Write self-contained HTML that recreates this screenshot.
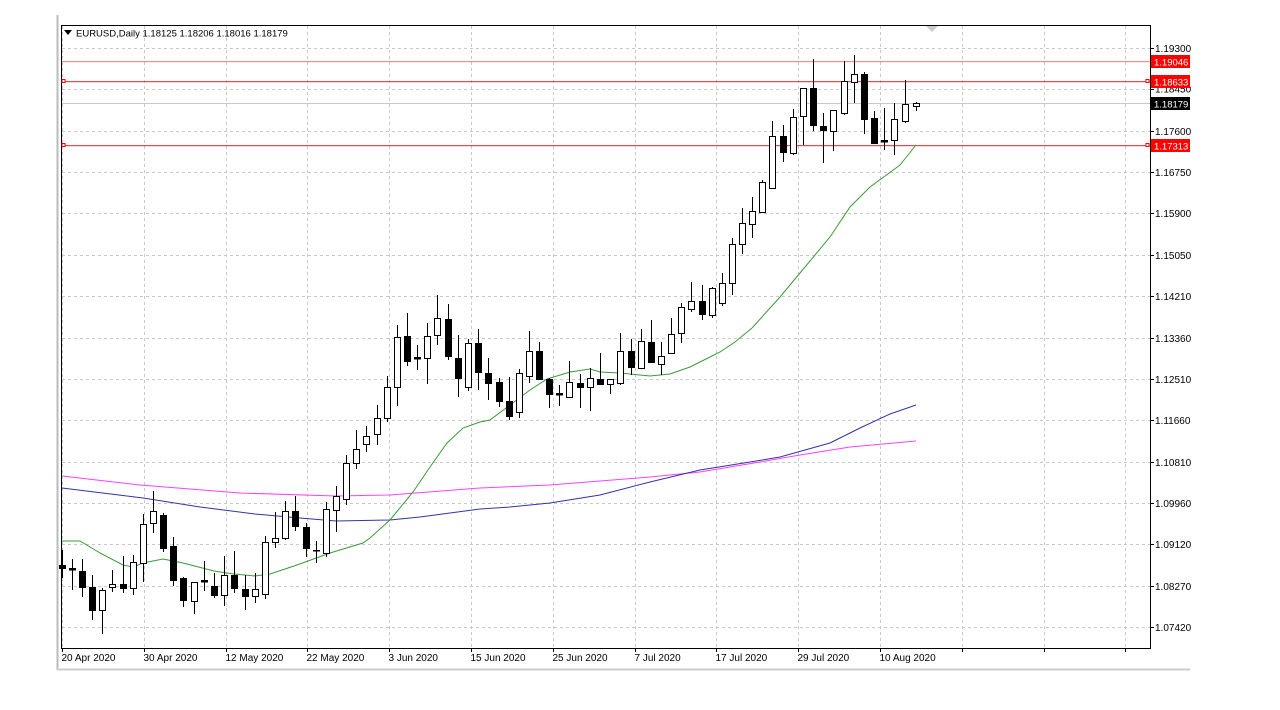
<!DOCTYPE html>
<html><head><meta charset="utf-8"><style>
html,body{margin:0;padding:0;background:#fff;width:1280px;height:710px;overflow:hidden}
svg text{font-family:"Liberation Sans",sans-serif;font-size:10px;fill:#000}
</style></head><body>
<svg id="c" width="1280" height="710" xmlns="http://www.w3.org/2000/svg">
<rect x="0" y="0" width="1280" height="710" fill="#fff"/>
<line x1="57.5" y1="15" x2="57.5" y2="670" stroke="#bbb" stroke-width="2"/>
<line x1="57" y1="669.5" x2="1190" y2="669.5" stroke="#ccc" stroke-width="2"/>
<g id="grid"></g>
<line x1="61.5" y1="25" x2="61.5" y2="648" stroke="#000"/>
<line x1="61" y1="25.5" x2="1150" y2="25.5" stroke="#000"/>
<line x1="1150.5" y1="25" x2="1150.5" y2="648" stroke="#000"/>
<line x1="61" y1="648.5" x2="1151" y2="648.5" stroke="#000"/>
<polygon points="926,26 938,26 932,32" fill="#ccc"/>
<rect x="62" y="61" width="1088" height="1.2" fill="rgb(255,140,140)"/>
<rect x="62" y="81" width="1088" height="1.2" fill="rgb(240,70,70)"/>
<rect x="62" y="103" width="1088" height="1" fill="rgb(200,200,200)"/>
<rect x="62" y="145" width="1088" height="1.2" fill="rgb(240,70,70)"/>
<rect x="62" y="79.5" width="3" height="3" fill="#fff" stroke="#f00" stroke-width="1"/>
<rect x="62" y="143.5" width="3" height="3" fill="#fff" stroke="#f00" stroke-width="1"/>
<rect x="1146" y="79.5" width="3" height="3" fill="#fff" stroke="#f00" stroke-width="1"/>
<rect x="1146" y="143.5" width="3" height="3" fill="#fff" stroke="#f00" stroke-width="1"/>
<polyline fill="none" stroke="#ff40ff" stroke-width="1" points="62,476 140,485 240,493 336,496 390,495 480,488 550,485 650,477 700,472 760,462 800,455 850,447 916,441"/>
<polyline fill="none" stroke="#3333aa" stroke-width="1" points="62,488 143,498 200,507 255,514 300,518 336,521 390,520 420,517 480,509 510,507 550,503 600,495 650,482 700,470 750,462 780,457 830,443 860,428 890,414 916,405"/>
<polyline fill="none" stroke="#3a9a3a" stroke-width="1" points="62,541 80,541 100,553 123,565 133,567 143,563 163,559 183,563 214,571 234,574 255,576 270,574 297,565 330,553 363,543 370,538 390,520 413,492 430,467 447,443 463,428 480,422 490,420 510,405 530,390 547,379 570,372 590,369 600,372 620,373 650,376 670,374 690,367 710,357 720,352 735,342 752,328 780,297 800,273 830,237 850,207 870,187 900,165 916,145"/>
<g id="candles"></g>
<g id="axis"></g>
<polygon points="64,30 72,30 68,35" fill="#000"/>
<text x="76" y="36.5" style="font-size:9.5px">EURUSD,Daily  1.18125 1.18206 1.18016 1.18179</text>
<rect x="1151" y="55" width="39" height="13" fill="#f00"/>
<text x="1154" y="65.5" style="fill:#fff;font-size:9.5px">1.19046</text>
<rect x="1151" y="75" width="39" height="13" fill="#f00"/>
<text x="1154" y="85.5" style="fill:#fff;font-size:9.5px">1.18633</text>
<rect x="1151" y="97" width="39" height="13" fill="#000"/>
<text x="1154" y="107.5" style="fill:#fff;font-size:9.5px">1.18179</text>
<rect x="1151" y="139" width="39" height="13" fill="#f00"/>
<text x="1154" y="149.5" style="fill:#fff;font-size:9.5px">1.17313</text>
</svg>
<script>
var ns="http://www.w3.org/2000/svg";
function el(p,t,a,txt){var e=document.createElementNS(ns,t);for(var k in a)e.setAttribute(k,a[k]);if(txt)e.textContent=txt;p.appendChild(e);return e;}
var g=document.getElementById('grid'),ax=document.getElementById('axis'),cg=document.getElementById('candles');
var levels=["1.19300","1.18450","1.17600","1.16750","1.15900","1.15050","1.14210","1.13360","1.12510","1.11660","1.10810","1.09960","1.09120","1.08270","1.07420"];
for(var i=0;i<levels.length;i++){var y=Math.round(48+i*41.36)+0.5;
 el(g,'line',{x1:62,y1:y,x2:1150,y2:y,stroke:'#c8c8c8','stroke-dasharray':'3,3'});
 el(ax,'line',{x1:1150,y1:y,x2:1154,y2:y,stroke:'#000'});
 if(i!=1)el(ax,'text',{x:1155,y:y+3.5},levels[i]); else el(ax,'text',{x:1155,y:y+3},levels[i]);}
var dates=["20 Apr 2020","30 Apr 2020","12 May 2020","22 May 2020","3 Jun 2020","15 Jun 2020","25 Jun 2020","7 Jul 2020","17 Jul 2020","29 Jul 2020","10 Aug 2020"];
for(var k=0;k<14;k++){var x=Math.round(62+k*81.8)+0.5;
 el(g,'line',{x1:x,y1:26,x2:x,y2:648,stroke:'#c8c8c8','stroke-dasharray':'3,3'});
 el(ax,'line',{x1:x,y1:648,x2:x,y2:652,stroke:'#000'});
 if(k<dates.length)el(ax,'text',{x:x-1,y:661},dates[k]);}
var d=[[62,550,578,565,568,0],[72,559,590,568,570,0],[82,559,597,571,587,0],[92,575,620,587,610,0],[102,588,634,590,610,1],[112,570,592,584,587,1],[123,556,593,584,588,0],[133,555,595,562,588,1],[143,514,582,524,563,1],[153,491,533,511,523,1],[163,513,552,515,548,0],[173,537,586,546,580,0],[183,577,607,578,600,0],[194,582,614,582,601,1],[204,561,591,580,582,1],[214,573,598,586,595,0],[224,556,606,575,595,1],[234,551,593,575,588,0],[245,575,610,589,596,0],[255,573,603,589,596,1],[265,536,599,542,594,1],[275,512,548,538,542,1],[285,501,540,511,538,1],[295,496,531,511,526,0],[306,523,557,527,548,0],[316,541,563,550,551,0],[326,502,557,509,553,1],[336,486,532,496,510,1],[346,455,505,463,499,1],[356,430,469,449,463,1],[366,426,452,436,444,1],[377,405,445,418,434,1],[387,376,422,387,418,1],[397,325,406,337,387,1],[407,313,366,336,361,0],[417,345,370,357,359,0],[427,323,384,336,358,1],[437,295,345,318,335,1],[448,304,360,319,356,0],[458,335,397,358,378,0],[468,339,391,343,387,1],[478,329,390,343,372,0],[488,358,400,373,383,0],[499,378,407,382,401,0],[509,377,420,401,416,0],[519,369,418,373,412,1],[529,331,383,351,376,1],[539,342,380,351,379,0],[549,378,408,379,394,0],[559,385,406,393,395,1],[569,361,397,382,397,1],[580,374,408,383,387,0],[590,368,411,378,387,1],[600,353,384,379,384,0],[610,379,394,379,384,1],[620,333,385,351,383,1],[631,339,375,351,367,0],[641,329,369,341,368,1],[651,320,363,342,362,0],[661,342,375,356,364,1],[671,318,353,334,353,1],[681,303,343,307,333,1],[691,282,312,301,309,1],[702,285,320,301,314,0],[712,287,318,288,315,1],[722,273,306,283,303,1],[732,238,295,244,283,1],[742,208,254,223,244,1],[752,197,238,211,224,1],[762,180,213,182,212,1],[772,121,188,136,188,1],[783,125,162,136,152,0],[793,109,155,117,153,1],[803,88,145,88,116,1],[813,59,131,88,125,0],[823,113,163,126,130,0],[833,110,151,110,131,1],[844,61,115,81,113,1],[854,55,103,74,82,1],[864,72,134,74,119,0],[874,111,143,118,143,0],[884,108,150,140,142,0],[894,103,155,119,140,1],[905,80,123,104,121,1],[916,102,111,103,106,1]];
d.forEach(function(c){var x=c[0]+0.5;
 el(cg,'line',{x1:x,y1:c[1],x2:x,y2:c[2],stroke:'#000'});
 var h=Math.max(1,c[4]-c[3]);
 if(h<=2){el(cg,'rect',{x:c[0]-3,y:c[3],width:7,height:h+0.5,fill:'#000'});}
 else el(cg,'rect',{x:c[0]-3+0.5,y:c[3]+0.5,width:6,height:h,fill:c[5]?'#fff':'#000',stroke:'#000'});});
</script>
</body></html>
